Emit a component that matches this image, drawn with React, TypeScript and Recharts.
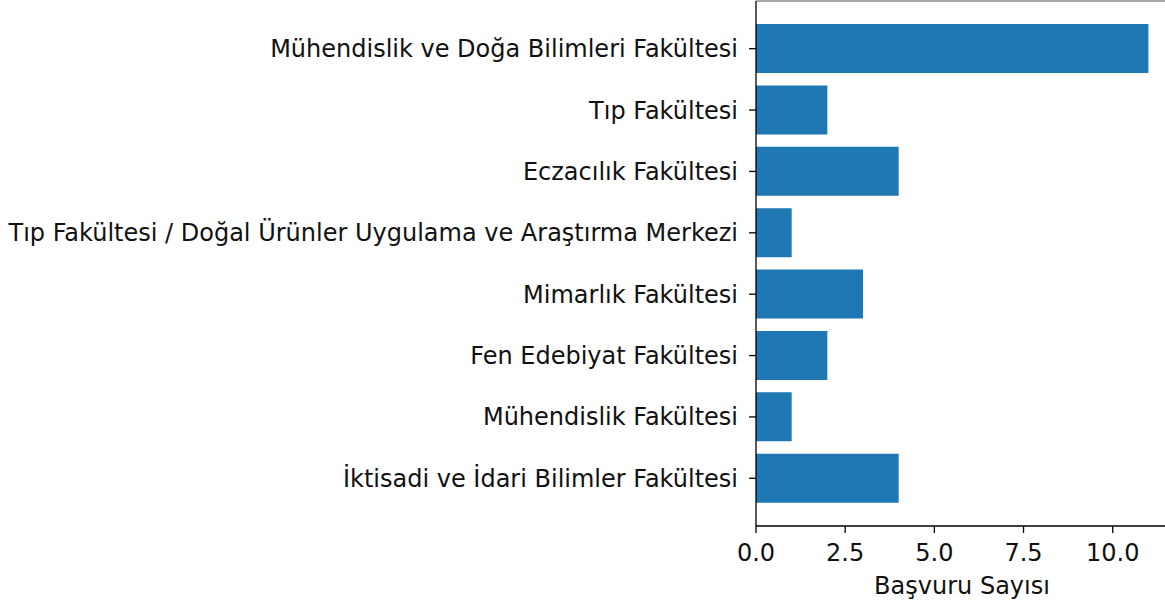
import React from 'react';
import { BarChart, Bar, XAxis, YAxis } from 'recharts';

const categories = [
  'Mühendislik ve Doğa Bilimleri Fakültesi',
  'Tıp Fakültesi',
  'Eczacılık Fakültesi',
  'Tıp Fakültesi / Doğal Ürünler Uygulama ve Araştırma Merkezi',
  'Mimarlık Fakültesi',
  'Fen Edebiyat Fakültesi',
  'Mühendislik Fakültesi',
  'İktisadi ve İdari Bilimler Fakültesi',
];
const counts = [11, 2, 4, 1, 3, 2, 1, 4];
const xTicks = [0, 2.5, 5, 7.5, 10];
const xLabel = 'Başvuru Sayısı';

const data = categories.map((name, i) => ({ name, value: counts[i] }));

const font = 'DejaVu Sans';

export default function App() {
  return (
    <div style={{ position: 'absolute', left: 0, top: 0, width: 1165, height: 604, overflow: 'hidden', background: '#fff' }}>
      <BarChart
        width={1168}
        height={604}
        data={data}
        layout="vertical"
        margin={{ top: 0, right: 0, bottom: 0, left: 0 }}
      >
        <XAxis
          type="number"
          domain={[0, 11.55]}
          ticks={xTicks}
          allowDataOverflow
          tickFormatter={(v: number) => v.toFixed(1)}
          height={78}
          tickSize={7}
          tickMargin={11}
          axisLine={{ stroke: '#000', strokeWidth: 1.3 }}
          tickLine={{ stroke: '#000', strokeWidth: 1.3 }}
          tick={{ fill: '#111', fontSize: 24, fontFamily: font }}
          label={{ value: xLabel, position: 'insideBottom', offset: 10, fill: '#111', fontSize: 24, fontFamily: font }}
        />
        <XAxis
          xAxisId="top"
          orientation="top"
          type="number"
          domain={[0, 11.55]}
          height={1}
          tick={false}
          tickLine={false}
          axisLine={{ stroke: '#555', strokeWidth: 1 }}
        />
        <YAxis
          type="category"
          dataKey="name"
          width={756}
          padding={{ top: 17, bottom: 17 }}
          tickSize={7}
          tickMargin={11}
          interval={0}
          axisLine={{ stroke: '#000', strokeWidth: 1.3 }}
          tickLine={{ stroke: '#000', strokeWidth: 1.3 }}
          tick={{ fill: '#111', fontSize: 24, fontFamily: font }}
        />
        <Bar dataKey="value" fill="#1f77b4" barSize={49} isAnimationActive={false} />
      </BarChart>
    </div>
  );
}
